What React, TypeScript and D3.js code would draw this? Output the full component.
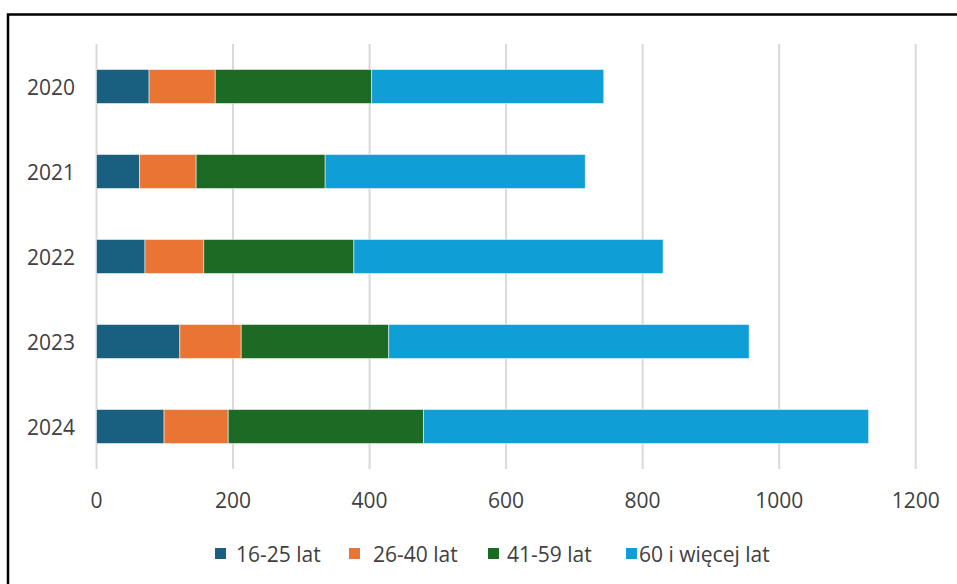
import React from "react";
import * as d3 from "d3";

const years = ["2020", "2021", "2022", "2023", "2024"];
const seriesNames = ["16-25 lat", "26-40 lat", "41-59 lat", "60 i więcej lat"];
const age16_25 = [77, 63, 71, 122, 99];
const age26_40 = [97, 83, 86, 90, 94];
const age41_59 = [229, 189, 220, 216, 286];
const age60plus = [340, 381, 453, 528, 652];
const xTicks = [0, 200, 400, 600, 800, 1000, 1200];

const colors = ["#185F80", "#EA7433", "#1D6A24", "#109ED6"];
const legendSquareX = [215, 349, 488, 626];
const legendTextX = [236, 373, 507, 639];

export default function App() {
  const W = 957;
  const H = 584;
  const x = d3.scaleLinear().domain([0, 1200]).range([96.5, 915.7]);
  const y = d3
    .scaleBand<string>()
    .domain(years)
    .range([44, 469])
    .paddingInner(0.6)
    .paddingOuter(0.3);

  const table = years.map((yr, i) => ({
    year: yr,
    s0: age16_25[i],
    s1: age26_40[i],
    s2: age41_59[i],
    s3: age60plus[i],
  }));
  const stack = d3.stack<any>().keys(["s0", "s1", "s2", "s3"]);
  const stacked = stack(table);

  const font = "'Open Sans', sans-serif";
  const textColor = "#404040";

  return (
    <svg
      width={W}
      height={H}
      style={{ position: "absolute", left: 0, top: 0, background: "#fff" }}
    >
      <rect x={0} y={0} width={W} height={H} fill="#fff" />
      {xTicks.map((t) => (
        <line
          key={t}
          x1={x(t)}
          x2={x(t)}
          y1={44}
          y2={469}
          stroke="#D9D9D9"
          strokeWidth={2}
        />
      ))}
      {stacked.map((layer, si) => (
        <g key={si} fill={colors[si]}>
          {layer.map((d, i) => (
            <rect
              key={i}
              x={x(d[0])}
              y={y(years[i])}
              width={x(d[1]) - x(d[0])}
              height={y.bandwidth()}
              stroke="rgba(255,255,255,0.5)"
              strokeWidth={1}
            />
          ))}
        </g>
      ))}
      {years.map((yr) => (
        <text
          key={yr}
          x={75}
          y={(y(yr) as number) + y.bandwidth() / 2}
          textAnchor="end"
          dominantBaseline="central"
          fontFamily={font}
          fontSize={21}
          fill={textColor}
        >
          {yr}
        </text>
      ))}
      {xTicks.map((t) => (
        <text
          key={t}
          x={x(t)}
          y={500}
          textAnchor="middle"
          dominantBaseline="central"
          fontFamily={font}
          fontSize={21}
          fill={textColor}
        >
          {t}
        </text>
      ))}
      {seriesNames.map((name, i) => (
        <g key={name}>
          <rect x={legendSquareX[i]} y={548} width={11} height={11} fill={colors[i]} />
          <text
            x={legendTextX[i]}
            y={553.5}
            dominantBaseline="central"
            fontFamily={font}
            fontSize={21}
            fill={textColor}
          >
            {name}
          </text>
        </g>
      ))}
      <rect
        x={8}
        y={14.5}
        width={1000}
        height={700}
        fill="none"
        stroke="#000"
        strokeWidth={2.5}
      />
    </svg>
  );
}
